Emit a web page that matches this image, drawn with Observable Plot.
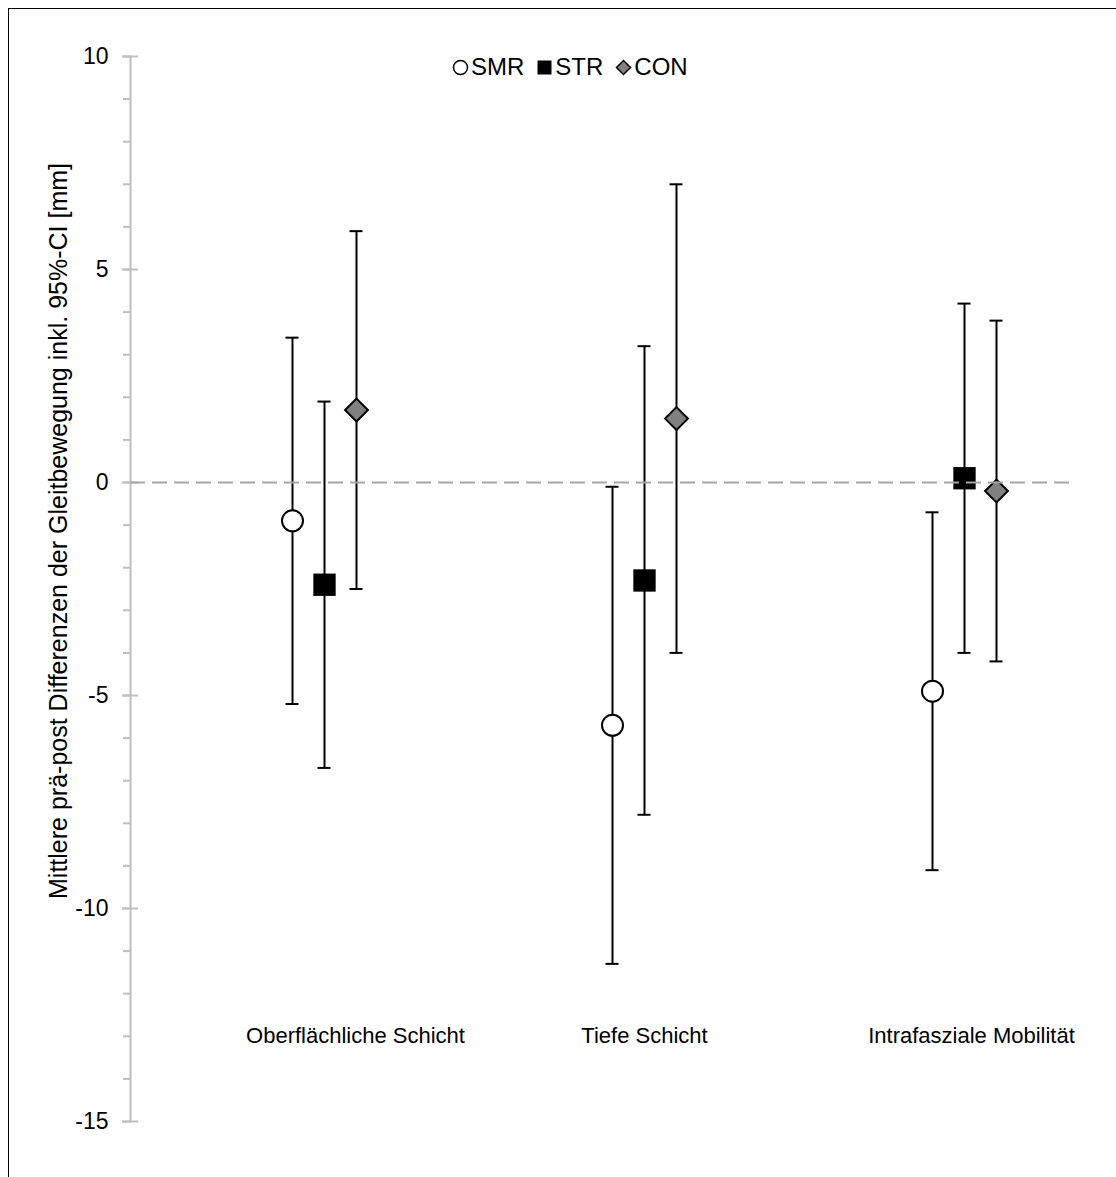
<!DOCTYPE html>
<html>
<head>
<meta charset="utf-8">
<script src="https://cdn.jsdelivr.net/npm/d3@7"></script>
<script src="https://cdn.jsdelivr.net/npm/@observablehq/plot@0.6"></script>
<style>
html, body { margin: 0; padding: 0; background: #fff; overflow: hidden; }
#wrap { position: relative; width: 1116px; height: 1177px; overflow: hidden; font-family: "Liberation Sans", Arial, sans-serif; }
#border { position: absolute; left: 8px; top: 8px; width: 1300px; height: 1400px; border: 1.5px solid #000; box-sizing: border-box; }
#chart { position: absolute; left: 0; top: 0; }
#legend { position: absolute; left: 452px; top: 53px; display: flex; align-items: center; font-size: 24px; color: #000; white-space: nowrap; }
#legend .item { display: flex; align-items: center; margin-right: 12px; }
#legend svg { margin-right: 2px; }
</style>
</head>
<body>
<div id="wrap">
  <div id="border"></div>
  <div id="chart"></div>
  <div id="legend"></div>
</div>
<script>
// ---- data ----
const categories = ["Oberflächliche Schicht", "Tiefe Schicht", "Intrafasziale Mobilität"];
const groups = ["SMR", "STR", "CON"];

const smrMean = [-0.9, -5.7, -4.9];
const smrLow  = [-5.2, -11.3, -9.1];
const smrHigh = [3.4, -0.1, -0.7];

const strMean = [-2.4, -2.3, 0.1];
const strLow  = [-6.7, -7.8, -4.0];
const strHigh = [1.9, 3.2, 4.2];

const conMean = [1.7, 1.5, -0.2];
const conLow  = [-2.5, -4.0, -4.2];
const conHigh = [5.9, 7.0, 3.8];

const yTicks = [-15, -10, -5, 0, 5, 10];
const yMinorTicks = [-15, -14, -13, -12, -11, -10, -9, -8, -7, -6, -5, -4, -3, -2, -1, 0, 1, 2, 3, 4, 5, 6, 7, 8, 9, 10];
const yLabel = "Mittlere prä-post Differenzen der Gleitbewegung inkl. 95%-CI [mm]";

// ---- build tables ----
function rows(mean, low, high) {
  return categories.map((c, j) => ({category: c, mean: mean[j], low: low[j], high: high[j]}));
}
const series = [
  {name: groups[0], data: rows(smrMean, smrLow, smrHigh), dx: -32, symbol: "circle",  r: 10.5, fill: "#ffffff", stroke: "#000", sw: 2},
  {name: groups[1], data: rows(strMean, strLow, strHigh), dx: 0,   symbol: "square",  r: 12.6, fill: "#000000", stroke: "none", sw: 0},
  {name: groups[2], data: rows(conMean, conLow, conHigh), dx: 32,  symbol: "diamond2", r: 10.3, fill: "#808080", stroke: "#000", sw: 2}
];
// horizontal label shifts as seen in the original layout
const labelShift = [31, 0, 7];

const font = '"Liberation Sans", Arial, sans-serif';
const marks = [
  Plot.frame({anchor: "left", stroke: "#bfbfbf", strokeWidth: 2}),
  Plot.axisY(yMinorTicks, {anchor: "left", tickSize: 7, tickFormat: () => "", stroke: "#bfbfbf", strokeWidth: 2, label: null}),
  Plot.axisY(yTicks, {anchor: "left", tickSize: 8, tickPadding: 14, fontSize: 23, tickFormat: d => String(d), stroke: "#bfbfbf", strokeWidth: 2, fill: "#000", label: null}),
  Plot.axisY(yTicks, {anchor: "left", tickSize: 8, dx: 8, tickFormat: () => "", stroke: "#bfbfbf", strokeWidth: 2, label: null}),
  Plot.text([yLabel], {frameAnchor: "left", textAnchor: "middle", rotate: -90, dx: -72, dy: -58, fontSize: 25, fill: "#000"})
];
categories.forEach((c, j) => {
  marks.push(Plot.text([c], {x: d => d, frameAnchor: "bottom", lineAnchor: "middle", dy: -86, dx: labelShift[j], fontSize: 22, fill: "#000"}));
});
for (const s of series) {
  marks.push(Plot.ruleX(s.data, {x: "category", y1: "low", y2: "high", dx: s.dx, stroke: "#000", strokeWidth: 2}));
  marks.push(Plot.ruleY(s.data, {x1: "category", x2: "category", y: "low", dx: s.dx, insetLeft: -6.5, insetRight: -6.5, stroke: "#000", strokeWidth: 2}));
  marks.push(Plot.ruleY(s.data, {x1: "category", x2: "category", y: "high", dx: s.dx, insetLeft: -6.5, insetRight: -6.5, stroke: "#000", strokeWidth: 2}));
}
for (const s of series) {
  marks.push(Plot.dot(s.data, {x: "category", y: "mean", dx: s.dx, symbol: s.symbol, r: s.r, fill: s.fill, stroke: s.stroke, strokeWidth: s.sw}));
}
marks.push(Plot.ruleY([0], {stroke: "#a6a6a6", strokeWidth: 2, strokeDasharray: "15,7"}));

const chart = Plot.plot({
  width: 1116,
  height: 1177,
  marginLeft: 130,
  marginRight: 44,
  marginTop: 56,
  marginBottom: 56,
  style: {fontFamily: font, fontSize: "22px", color: "#000", background: "transparent", overflow: "visible"},
  x: {type: "point", domain: categories, range: [323, 964], padding: 0, axis: null},
  y: {domain: [-15, 10], axis: null},
  marks
});
document.getElementById("chart").appendChild(chart);

// ---- legend ----
const legendSymbols = {
  SMR: '<svg width="17" height="17"><circle cx="8.5" cy="8.5" r="7" fill="#fff" stroke="#000" stroke-width="1.5"/></svg>',
  STR: '<svg width="17" height="17"><rect x="1.5" y="1.5" width="14" height="14" fill="#000"/></svg>',
  CON: '<svg width="17" height="17"><path d="M8.5,1.5 L15.5,8.5 L8.5,15.5 L1.5,8.5 Z" fill="#808080" stroke="#000" stroke-width="1.5"/></svg>'
};
const legend = document.getElementById("legend");
for (const g of groups) {
  const item = document.createElement("div");
  item.className = "item";
  item.innerHTML = legendSymbols[g] + "<span>" + g + "</span>";
  legend.appendChild(item);
}
</script>
</body>
</html>
